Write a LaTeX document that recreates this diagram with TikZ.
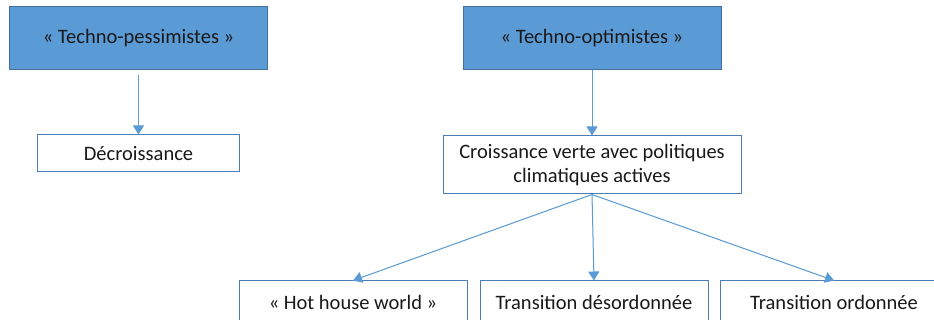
\documentclass[tikz,border=0pt]{standalone}
\usepackage{fontspec}
\setmainfont{Carlito}
\usetikzlibrary{positioning,arrows.meta}
\definecolor{officeblue}{HTML}{5B9BD5}
\definecolor{officeedge}{HTML}{41719C}
\definecolor{boxedge}{HTML}{4A7DBA}
\tikzset{>={Triangle[width=11pt,length=9pt]}}

\begin{document}
\begin{tikzpicture}[x=1pt, y=-1pt, node distance=64pt,
    every node/.style={font=\fontsize{20.5}{24.6}\selectfont, text=black!90, inner sep=0pt},
    camp/.style={draw=officeedge, fill=officeblue, line width=1pt, minimum width=258pt, minimum height=63pt},
    scen/.style={draw=boxedge, fill=white, line width=1pt, minimum width=228pt, minimum height=42pt},
    link/.style={->, draw=officeblue, fill=officeblue, line width=1pt}]

      \useasboundingbox (0,0) rectangle (934,320);

      \node[camp] (pess) at (138.5,38.5) {« Techno-pessimistes »};
      \node[camp] (opt) at (592,38.5) {« Techno-optimistes »};

      \node[scen, minimum width=202pt, minimum height=37pt] (decr) [below=of pess] {Décroissance};
      \node[scen, minimum width=298pt, minimum height=58pt, align=center] (croiss) [below=65pt of opt]
            {Croissance verte avec politiques\\climatiques actives};

      % scenarios
      \node[scen] (hot) at (353,302) {« Hot house world »};
      \node[scen] (desord) at (594,302) {Transition désordonnée};
      \node[scen] (ord) at (834,302) {Transition ordonnée};

      \draw[link, shorten <=5pt] (pess) -- (decr);
      \draw[link] (opt) -- (croiss);
      \draw[link] (croiss.south) -- (hot.north);
      \draw[link] (croiss.south) -- (desord.north);
      \draw[link] (croiss.south) -- (ord.north);

\end{tikzpicture}
\end{document}
